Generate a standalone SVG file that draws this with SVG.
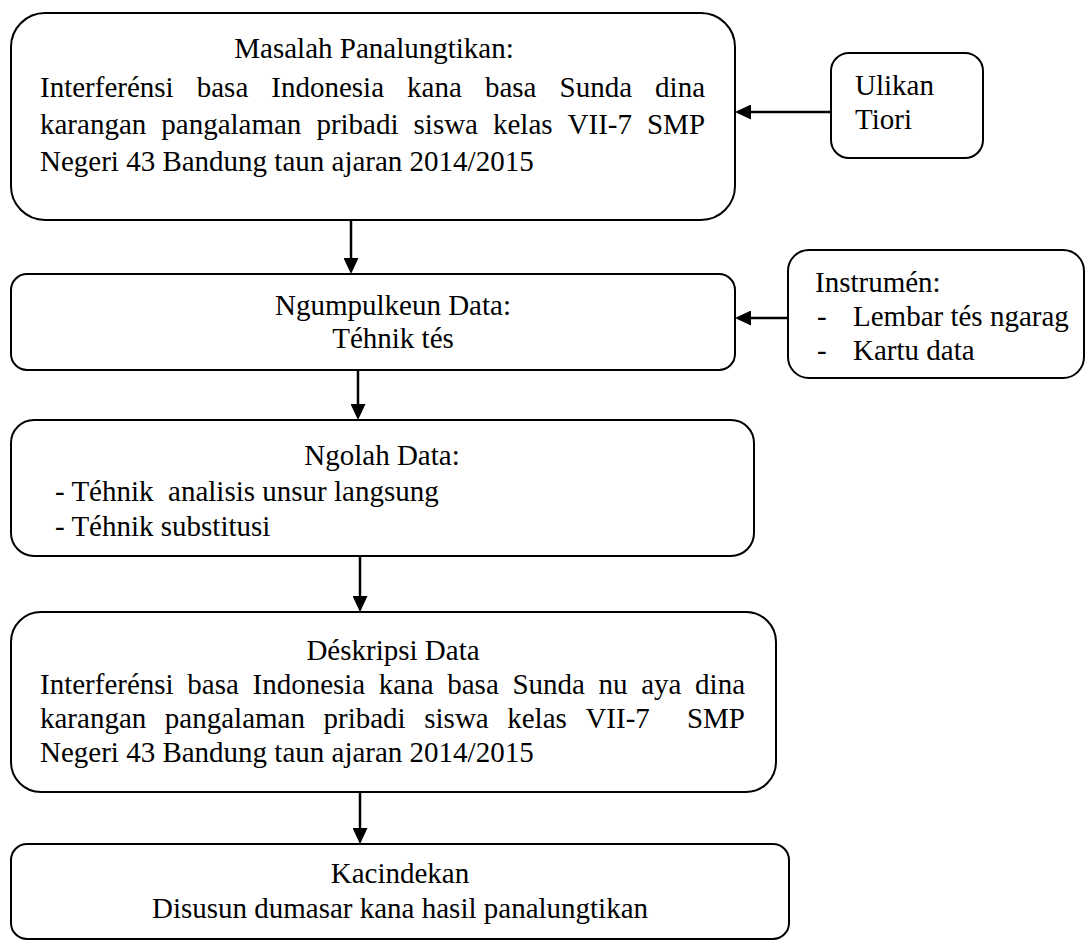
<svg xmlns="http://www.w3.org/2000/svg" width="1086" height="941" viewBox="0 0 1086 941">
  <style>
    .box { fill: #ffffff; stroke: #000000; stroke-width: 2; }
    .t { font-family: "Liberation Serif", "Times New Roman", serif; font-size: 29px; fill: #000000; }
    .c { text-anchor: middle; }
    .conn { stroke: #000000; stroke-width: 2.5; fill: none; marker-end: url(#ah); }
  </style>
  <defs>
    <marker id="ah" markerUnits="userSpaceOnUse" markerWidth="16" markerHeight="15" viewBox="0 0 16 15" refX="11" refY="7.5" orient="auto">
      <path d="M0,0 L16,7.5 L0,15 z" fill="#000000"/>
    </marker>
  </defs>
  <rect width="1086" height="941" fill="#ffffff"/>

  <g id="masalah">
    <rect class="box" x="11" y="13" width="724" height="207" rx="34" ry="34"/>
    <text class="t c" x="374" y="58">Masalah Panalungtikan:</text>
    <text class="t" y="97"><tspan x="40">Interferénsi</tspan><tspan x="196.72">basa</tspan><tspan x="271.31">Indonesia</tspan><tspan x="407.12">kana</tspan><tspan x="484.93">basa</tspan><tspan x="559.52">Sunda</tspan><tspan x="655.08">dina</tspan></text>
    <text class="t" y="134"><tspan x="40">karangan</tspan><tspan x="161.28">pangalaman</tspan><tspan x="316.40">pribadi</tspan><tspan x="413.55">siswa</tspan><tspan x="492.98">kelas</tspan><tspan x="567.57">VII-7</tspan><tspan x="646.97">SMP</tspan></text>
    <text class="t" x="40" y="171">Negeri 43 Bandung taun ajaran 2014/2015</text>
  </g>

  <g id="ulikan">
    <rect class="box" x="831" y="53" width="152" height="105" rx="18" ry="18"/>
    <text class="t" x="855" y="95">Ulikan</text>
    <text class="t" x="855" y="129">Tiori</text>
  </g>

  <g id="ngumpulkeun">
    <rect class="box" x="11" y="274" width="724" height="96" rx="16" ry="16"/>
    <text class="t c" x="393" y="315">Ngumpulkeun Data:</text>
    <text class="t c" x="393" y="348">Téhnik tés</text>
  </g>

  <g id="instrumen">
    <rect class="box" x="788" y="250" width="296" height="128" rx="21" ry="21"/>
    <text class="t" x="815" y="292">Instrumén:</text>
    <text class="t" y="326"><tspan x="817">-</tspan><tspan x="853">Lembar tés ngarag</tspan></text>
    <text class="t" y="360"><tspan x="817">-</tspan><tspan x="853">Kartu data</tspan></text>
  </g>

  <g id="ngolah">
    <rect class="box" x="11" y="420" width="743" height="136" rx="23" ry="23"/>
    <text class="t c" x="382" y="465">Ngolah Data:</text>
    <text class="t" x="55" y="501" xml:space="preserve">- Téhnik  analisis unsur langsung</text>
    <text class="t" x="55" y="536">- Téhnik substitusi</text>
  </g>

  <g id="deskripsi">
    <rect class="box" x="11" y="612" width="765" height="180" rx="30" ry="30"/>
    <text class="t c" x="393" y="660">Déskripsi Data</text>
    <text class="t" y="694"><tspan x="40">Interferénsi</tspan><tspan x="187.30">basa</tspan><tspan x="252.47">Indonesia</tspan><tspan x="378.86">kana</tspan><tspan x="447.25">basa</tspan><tspan x="512.42">Sunda</tspan><tspan x="598.56">nu</tspan><tspan x="641.20">aya</tspan><tspan x="695.09">dina</tspan></text>
    <text class="t" y="728"><tspan x="40">karangan</tspan><tspan x="164.85">pangalaman</tspan><tspan x="323.54">pribadi</tspan><tspan x="424.26">siswa</tspan><tspan x="507.26">kelas</tspan><tspan x="585.42">VII-7</tspan><tspan x="686.95">SMP</tspan></text>
    <text class="t" x="40" y="762">Negeri 43 Bandung taun ajaran 2014/2015</text>
  </g>

  <g id="kacindekan">
    <rect class="box" x="11" y="844" width="778" height="95" rx="16" ry="16"/>
    <text class="t c" x="400" y="883">Kacindekan</text>
    <text class="t c" x="400" y="918">Disusun dumasar kana hasil panalungtikan</text>
  </g>

  <g id="connectors">
    <line class="conn" x1="351" y1="221" x2="351" y2="269"/>
    <line class="conn" x1="358" y1="371" x2="358" y2="415"/>
    <line class="conn" x1="360" y1="557" x2="360" y2="607"/>
    <line class="conn" x1="360" y1="793" x2="360" y2="839"/>
    <line class="conn" x1="830" y1="112" x2="740" y2="112"/>
    <line class="conn" x1="787" y1="318" x2="740" y2="318"/>
  </g>
</svg>
